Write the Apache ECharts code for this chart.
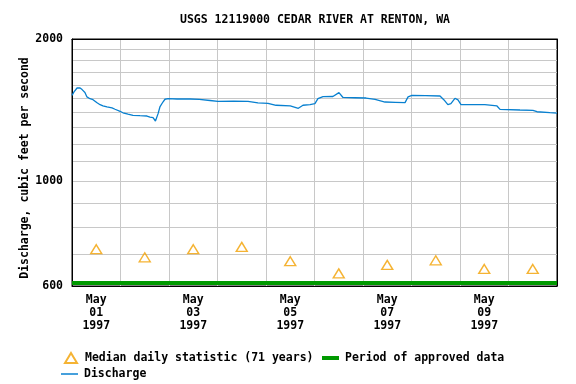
<!DOCTYPE html>
<html><head><meta charset="utf-8">
<script src="https://cdn.jsdelivr.net/npm/echarts@6/dist/echarts.min.js"></script>
<style>html,body{margin:0;padding:0;background:#fff}#c{width:576px;height:384px}</style>
</head><body><div id="c"></div>
<script>
const titleText = 'USGS 12119000 CEDAR RIVER AT RENTON, WA';
const yAxisName = 'Discharge, cubic feet per second';
const dayLabels = ['May 01 1997','May 02 1997','May 03 1997','May 04 1997','May 05 1997','May 06 1997','May 07 1997','May 08 1997','May 09 1997','May 10 1997'];
const medianValues = [718, 690, 718, 726, 677, 638, 665, 680, 652, 652];
const dischargeHours = [0,1,2.5,4,5,6.4,7.4,8.9,10.4,12.4,13.9,15.3,17.3,19.8,21.3,23.8,25.2,27.7,30.2,33.6,37.1,38.6,40.1,41.3,42.6,43.5,45,46,47.5,52,58.4,63,68.3,72.2,80,87.1,88,92,97,101,108,112,114.3,117.8,120.2,121.7,124.2,129.1,132.1,134.1,140,145.5,150,154.9,160,164.8,166.3,168.2,175,182.1,184.1,186,187.5,189.5,191,192.5,197,204.3,210.3,211.8,221.7,228.1,230.1,236.5,240];
const dischargeValues = [1520,1545,1575,1575,1563,1541,1508,1495,1488,1466,1452,1443,1436,1429,1420,1406,1396,1387,1379,1376,1374,1367,1363,1341,1390,1436,1471,1491,1495,1493,1493,1490,1482,1476,1478,1476,1466,1465,1462,1448,1443,1427,1448,1453,1459,1495,1510,1511,1540,1504,1502,1500,1490,1471,1469,1467,1508,1519,1517,1515,1486,1452,1459,1498,1486,1452,1453,1452,1443,1419,1415,1413,1403,1397,1394];
const approvedHours = [0, 240];
const approvedLevel = 609;
const yLabelValues = [600, 1000, 2000];
const yTickValues = [600,700,800,900,1000,1100,1200,1300,1400,1500,1600,1700,1800,1900,2000];

const FONT = 'DejaVu Sans Mono';
const txt = {fontFamily: FONT, fontWeight: 'bold', fontSize: 11.5, color: '#000'};

const chart = echarts.init(document.getElementById('c'), null, {renderer: 'canvas'});
chart.setOption({
  animation: false,
  backgroundColor: '#fff',
  title: {text: titleText, left: 315, textAlign: 'center', top: 14, padding: 0,
    textStyle: Object.assign({}, txt)},
  grid: {left: 72, right: 19, top: 39, bottom: 98, containLabel: false, outerBoundsMode: 'none',
    show: true, borderColor: '#000', borderWidth: 1, backgroundColor: '#fff'},
  legend: [
    {left: 64, top: 352, padding: 0, itemWidth: 12, itemHeight: 10, itemGap: 0, selectedMode: false,
      textStyle: Object.assign({}, txt, {padding: [0,0,0,3]}), data: ['Median daily statistic (71 years)']},
    {left: 322, top: 352, padding: 0, itemWidth: 17, itemHeight: 4, selectedMode: false,
      textStyle: Object.assign({}, txt, {padding: [0,0,0,1]}), data: [{name: 'Period of approved data', icon: 'rect'}]},
    {left: 61, top: 368, padding: 0, itemWidth: 17, itemHeight: 1.5, selectedMode: false,
      textStyle: Object.assign({}, txt, {padding: [0,0,0,1]}), data: [{name: 'Discharge', icon: 'rect'}]}
  ],
  xAxis: [
    {type: 'category', data: dayLabels, boundaryGap: true,
      axisLine: {show: true, lineStyle: {color: '#000', width: 1}},
      axisTick: {show: false},
      axisLabel: Object.assign({}, txt, {interval: 1, margin: 8, lineHeight: 13,
        formatter: v => v.split(' ').join('\n')}),
      splitLine: {show: true, interval: 0, showMinLine: false, showMaxLine: false, lineStyle: {color: '#c8c8c8', width: 1}}},
    {type: 'value', min: 0, max: 240, show: false},
    {type: 'category', data: dayLabels, position: 'top', boundaryGap: true,
      axisLine: {show: true, lineStyle: {color: '#000', width: 1}},
      axisTick: {show: false}, axisLabel: {show: false}, splitLine: {show: false}}
  ],
  yAxis: [
    {type: 'log', logBase: 10, min: 600, max: 2000,
      name: yAxisName, nameLocation: 'middle', nameGap: 41, nameRotate: 90, nameMoveOverlap: false,
      nameTextStyle: Object.assign({}, txt, {padding: [0, 11, 0, 0]}),
      axisLine: {show: true, lineStyle: {color: '#000', width: 1}},
      axisTick: {show: false, customValues: yTickValues},
      axisLabel: Object.assign({}, txt, {margin: 9, customValues: yLabelValues,
        formatter: v => String(Math.round(v))}),
      splitLine: {show: true, showMinLine: false, showMaxLine: false, lineStyle: {color: '#c8c8c8', width: 1}}},
    {type: 'log', logBase: 10, min: 600, max: 2000, position: 'right',
      axisLine: {show: true, lineStyle: {color: '#000', width: 1}},
      axisTick: {show: false}, axisLabel: {show: false}, splitLine: {show: false}}
  ],
  series: [
    {name: 'Period of approved data', type: 'line', xAxisIndex: 1, yAxisIndex: 0,
      data: approvedHours.map(h => [h, approvedLevel]), symbol: 'none', z: 3,
      lineStyle: {color: '#009900', width: 4}, itemStyle: {color: '#009900'}},
    {name: 'Median daily statistic (71 years)', type: 'scatter', xAxisIndex: 0, yAxisIndex: 0,
      data: medianValues, symbol: 'triangle', symbolSize: [11, 9], z: 4,
      itemStyle: {color: 'rgba(255,255,255,0)', borderColor: '#f2a000', borderWidth: 1.4}},
    {name: 'Discharge', type: 'line', xAxisIndex: 1, yAxisIndex: 0,
      data: dischargeHours.map((h, i) => [h, dischargeValues[i]]), symbol: 'none', z: 5,
      lineStyle: {color: '#0880d0', width: 1.3}, itemStyle: {color: '#0880d0'}}
  ]
});
</script></body></html>
